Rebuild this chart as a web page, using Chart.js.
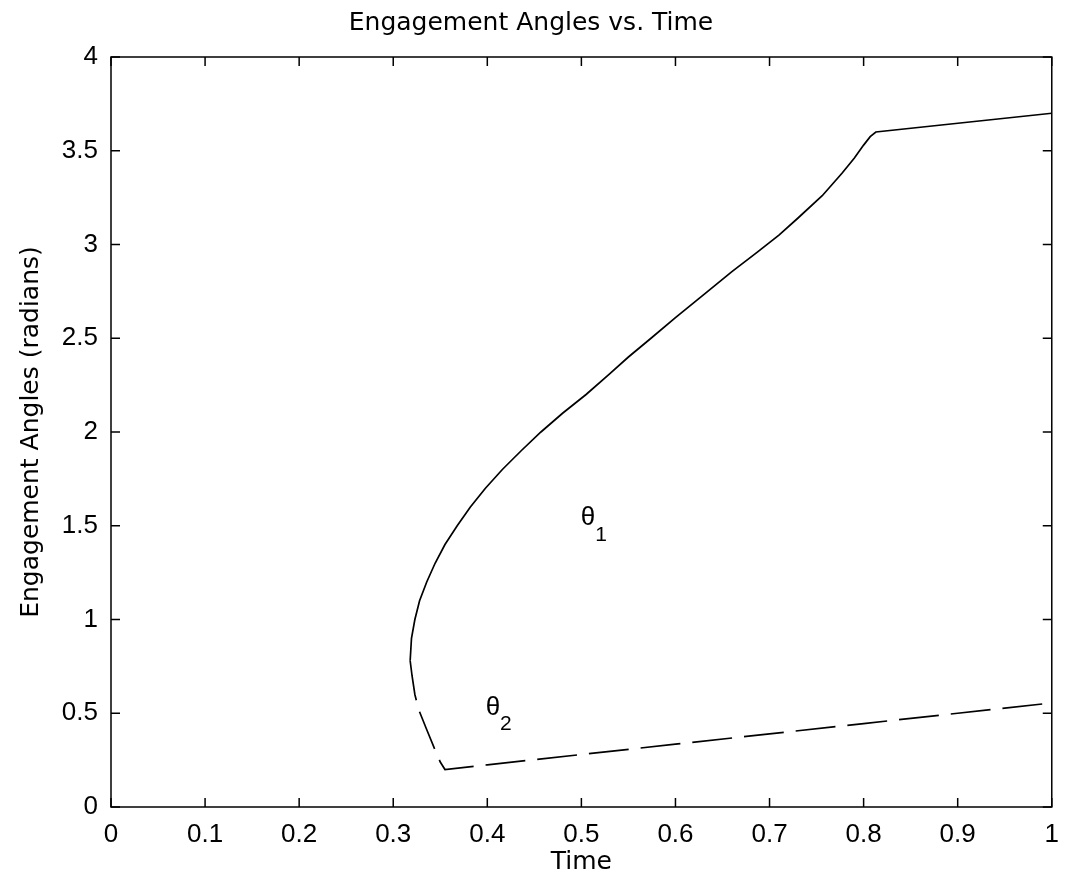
<!DOCTYPE html>
<html>
<head>
<meta charset="utf-8">
<script src="https://cdn.jsdelivr.net/npm/chart.js@4"></script>
<style>
  html, body { margin: 0; padding: 0; background: #fff; }
  #wrap { width: 1071px; height: 884px; }
</style>
</head>
<body>
<div id="wrap"><canvas id="angleChart"></canvas></div>
<script>
// θ1 (solid)
const theta1Time  = [0.318, 0.3194, 0.323, 0.328, 0.3356, 0.3445, 0.355, 0.368, 0.382, 0.398, 0.416, 0.436, 0.457, 0.480, 0.505, 0.530, 0.550, 0.574, 0.600, 0.633, 0.660, 0.686, 0.710, 0.730, 0.756, 0.777, 0.790, 0.800, 0.807, 0.813, 1.000];
const theta1Angle = [0.78, 0.90, 1.00, 1.10, 1.20, 1.30, 1.40, 1.50, 1.60, 1.70, 1.80, 1.90, 2.00, 2.10, 2.20, 2.31, 2.40, 2.50, 2.61, 2.745, 2.855, 2.955, 3.05, 3.14, 3.26, 3.38, 3.46, 3.53, 3.575, 3.60, 3.70];

// θ2 (dashed)
const theta2Time  = [0.318, 0.320, 0.323, 0.327, 0.335, 0.344, 0.350, 0.355, 0.400, 0.500, 0.600, 0.700, 0.800, 0.900, 1.000];
const theta2Angle = [0.78, 0.70, 0.60, 0.52, 0.42, 0.31, 0.24, 0.20, 0.225, 0.28, 0.335, 0.39, 0.445, 0.50, 0.555];

const xTickValues = [0, 0.1, 0.2, 0.3, 0.4, 0.5, 0.6, 0.7, 0.8, 0.9, 1];
const xTickLabels = ['0', '0.1', '0.2', '0.3', '0.4', '0.5', '0.6', '0.7', '0.8', '0.9', '1'];
const yTickValues = [0, 0.5, 1, 1.5, 2, 2.5, 3, 3.5, 4];
const yTickLabels = ['0', '0.5', '1', '1.5', '2', '2.5', '3', '3.5', '4'];

// curve labels
const curveLabels = [
    { name: 'θ', sub: '1', x: 0.507, y: 1.54 },
    { name: 'θ', sub: '2', x: 0.406, y: 0.53 }
];

const TICK_FONT = '"Liberation Sans", Arial, sans-serif';
const TEXT_FONT = '"DejaVu Sans", sans-serif';

// box and inward ticks (MATLAB style)
const boxPlugin = {
    id: 'box',
    afterDraw(chart) {
        const ctx = chart.ctx;
        const a = chart.chartArea;
        const xs = chart.scales.x, ys = chart.scales.y;
        const tl = 9;
        ctx.save();
        ctx.strokeStyle = '#000';
        ctx.lineWidth = 1.5;
        ctx.strokeRect(a.left, a.top, a.right - a.left, a.bottom - a.top);
        ctx.beginPath();
        xTickValues.forEach(v => {
            const px = xs.getPixelForValue(v);
            ctx.moveTo(px, a.bottom); ctx.lineTo(px, a.bottom - tl);
            ctx.moveTo(px, a.top); ctx.lineTo(px, a.top + tl);
        });
        yTickValues.forEach(v => {
            const py = ys.getPixelForValue(v);
            ctx.moveTo(a.left, py); ctx.lineTo(a.left + tl, py);
            ctx.moveTo(a.right, py); ctx.lineTo(a.right - tl, py);
        });
        ctx.stroke();

        // θ labels
        ctx.fillStyle = '#000';
        ctx.textAlign = 'center';
        ctx.textBaseline = 'middle';
        curveLabels.forEach(l => {
            const px = xs.getPixelForValue(l.x);
            const py = ys.getPixelForValue(l.y);
            ctx.font = '26px ' + TICK_FONT;
            ctx.fillText(l.name, px, py);
            ctx.font = '21px ' + TICK_FONT;
            ctx.fillText(l.sub, px + 13, py + 17);
        });
        ctx.restore();
    }
};

const ctx = document.getElementById('angleChart').getContext('2d');
const angleChart = new Chart(ctx, {
    type: 'scatter',
    data: {
        datasets: [{
            label: 'theta1',
            data: theta1Time.map((t, i) => ({ x: t, y: theta1Angle[i] })),
            showLine: true,
            borderColor: '#000',
            borderWidth: 1.7,
            pointRadius: 0,
            tension: 0
        }, {
            label: 'theta2',
            data: theta2Time.map((t, i) => ({ x: t, y: theta2Angle[i] })),
            showLine: true,
            borderColor: '#000',
            borderWidth: 1.7,
            borderDash: [40, 12],
            pointRadius: 0,
            tension: 0
        }]
    },
    options: {
        responsive: true,
        maintainAspectRatio: false,
        animation: false,
        layout: { padding: { left: 0, right: 9, top: 0, bottom: 0 } },
        plugins: {
            legend: { display: false },
            tooltip: { enabled: false },
            title: {
                display: true,
                text: 'Engagement Angles vs. Time',
                color: '#000',
                font: { family: TEXT_FONT, size: 25, weight: 'normal', lineHeight: 1.2 },
                padding: { top: 8, bottom: 19 }
            }
        },
        scales: {
            x: {
                type: 'linear',
                min: 0, max: 1,
                afterBuildTicks: s => { s.ticks = xTickValues.map(v => ({ value: v })); },
                afterFit: s => { s.height = 77; },
                grid: { display: false, drawTicks: false },
                border: { display: false },
                ticks: {
                    color: '#000',
                    padding: 12,
                    maxRotation: 0,
                    autoSkip: false,
                    font: { family: TICK_FONT, size: 26 },
                    callback: (v, i) => xTickLabels[i]
                },
                title: {
                    display: true,
                    text: 'Time',
                    color: '#000',
                    font: { family: TEXT_FONT, size: 25, lineHeight: 1.2 },
                    padding: { top: 0, bottom: 7 }
                }
            },
            y: {
                type: 'linear',
                min: 0, max: 4,
                afterBuildTicks: s => { s.ticks = yTickValues.map(v => ({ value: v })); },
                afterFit: s => { s.width = 111; },
                grid: { display: false, drawTicks: false },
                border: { display: false },
                ticks: {
                    color: '#000',
                    padding: 13,
                    autoSkip: false,
                    font: { family: TICK_FONT, size: 26 },
                    callback: (v, i) => yTickLabels[i]
                },
                title: {
                    display: true,
                    text: 'Engagement Angles (radians)',
                    color: '#000',
                    font: { family: TEXT_FONT, size: 25, lineHeight: 1.2 },
                    padding: { top: 16, bottom: 0 }
                }
            }
        }
    },
    plugins: [boxPlugin]
});
</script>
</body>
</html>
